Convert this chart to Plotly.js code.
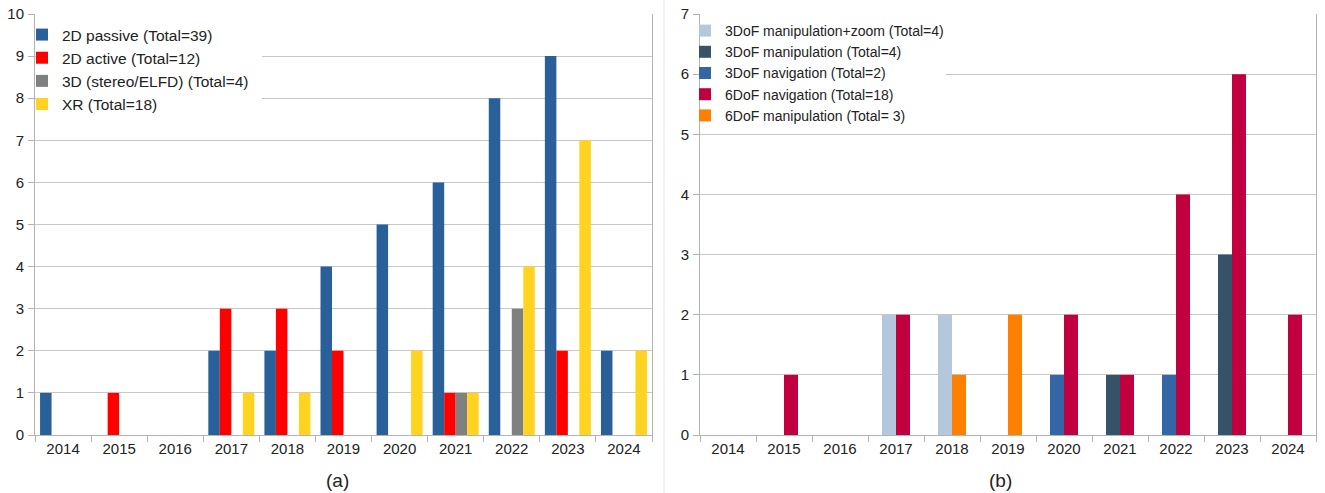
<!DOCTYPE html>
<html>
<head>
<meta charset="utf-8">
<script src="https://cdn.plot.ly/plotly-3.0.1.min.js"></script>
<style>html,body{margin:0;padding:0;background:#fff;}#chart{width:1325px;height:493px;}</style>
</head>
<body>
<div id="chart"></div>
<script>
const years = ["2014","2015","2016","2017","2018","2019","2020","2021","2022","2023","2024"];

// Panel (a)
const passive2D = [1,0,0,2,2,4,5,6,8,9,2];
const active2D  = [0,1,0,3,3,2,0,1,0,2,0];
const stereo3D  = [0,0,0,0,0,0,0,1,3,0,0];
const xr        = [0,0,0,1,1,0,2,1,4,7,2];
const namesA = ["2D passive (Total=39)","2D active (Total=12)","3D (stereo/ELFD) (Total=4)","XR (Total=18)"];

// Panel (b)
const manipZoom3 = [0,0,0,2,2,0,0,0,0,0,0];
const manip3     = [0,0,0,0,0,0,0,1,0,3,0];
const nav3       = [0,0,0,0,0,0,1,0,1,0,0];
const nav6       = [0,1,0,2,0,0,2,1,4,6,2];
const manip6     = [0,0,0,0,1,2,0,0,0,0,0];
const namesB = ["3DoF manipulation+zoom (Total=4)","3DoF manipulation (Total=4)","3DoF navigation (Total=2)","6DoF navigation (Total=18)","6DoF manipulation (Total= 3)"];

const colorsA = ["#2a6099","#ff0000","#808080","#ffd320"];
const colorsB = ["#b4c7dc","#355269","#3465a4","#c0003f","#ff8000"];

const seriesA = [passive2D, active2D, stereo3D, xr];
const seriesB = [manipZoom3, manip3, nav3, nav6, manip6];
const slotB = [-0.25,-0.25,-0.25,0,0];   // left slot for 3DoF, right slot for 6DoF

const traces = [];
seriesA.forEach((s,i)=>traces.push({
  type:"bar", x:years, y:s, name:namesA[i], xaxis:"x", yaxis:"y",
  marker:{color:colorsA[i], line:{width:0}}, legend:"legend"
}));
seriesB.forEach((s,i)=>traces.push({
  type:"bar", x:years, y:s, name:namesB[i], xaxis:"x2", yaxis:"y2",
  marker:{color:colorsB[i], line:{width:0}}, legend:"legend2",
  width:0.25, offset:slotB[i]
}));

const tickFont = {family:"Liberation Sans, Arial, sans-serif", size:15, color:"#222"};
const gridC = "#c8c8c8";
const lineC = "#b3b3b3";

function xax(dom, anchor){
  return {domain:dom, anchor:anchor, type:"category", tickson:"boundaries",
    ticks:"outside", ticklen:6, tickcolor:lineC, showline:true, linecolor:lineC, linewidth:1,
    showgrid:false, tickfont:tickFont, fixedrange:true, zeroline:false};
}
function yax(dom, anchor, maxv){
  return {domain:dom, anchor:anchor, range:[0,maxv], dtick:1, ticks:"outside", ticklen:6,
    tickcolor:lineC, showline:true, mirror:true, linecolor:lineC, linewidth:1,
    showgrid:true, gridcolor:gridC, gridwidth:1, zeroline:false, tickfont:tickFont, ticklabelstandoff:1};
}

const H=493, W=1325;
const yDom=[1-435/H, 1-14/H];
const layout = {
  width:W, height:H, margin:{l:0,r:0,t:0,b:0},
  paper_bgcolor:"#fff", plot_bgcolor:"#fff",
  barmode:"group", bargap:0.18, bargroupgap:0,
  font:{family:"Liberation Sans, Arial, sans-serif", size:13, color:"#222"},
  xaxis: xax([35/W, 652/W], "y"),
  yaxis: yax(yDom, "x", 10),
  xaxis2: xax([700/W, 1316/W], "y2"),
  yaxis2: yax(yDom, "x2", 7),
  legend:{x:22/W, y:1-18/H, xanchor:"left", yanchor:"top", bgcolor:"rgba(0,0,0,0)",
    font:{size:15.5, color:"#222"}, itemwidth:30, tracegroupgap:0},
  legend2:{x:685/W, y:1-15/H, xanchor:"left", yanchor:"top", bgcolor:"rgba(0,0,0,0)",
    font:{size:14, color:"#222"}, itemwidth:30, tracegroupgap:0},
  shapes:[
    {type:"rect", xref:"paper", yref:"paper", x0:40/W, x1:262/W,
      y0:1-110/H, y1:1-22/H, fillcolor:"#fff", line:{width:0}, layer:"above"},
    {type:"rect", xref:"paper", yref:"paper", x0:703/W, x1:946/W,
      y0:1-128/H, y1:1-19/H, fillcolor:"#fff", line:{width:0}, layer:"above"},
    {type:"line", xref:"paper", yref:"paper", x0:664/W, x1:664/W, y0:0, y1:1, line:{color:"#e6e6e6", width:1}}
  ],
  annotations:[
    {text:"(a)", xref:"paper", yref:"paper", x:337/W, y:1-480/H, xanchor:"center", yanchor:"middle", showarrow:false, font:{size:19,color:"#222"}},
    {text:"(b)", xref:"paper", yref:"paper", x:1000/W, y:1-480/H, xanchor:"center", yanchor:"middle", showarrow:false, font:{size:19,color:"#222"}}
  ],
  showlegend:true
};

Plotly.newPlot("chart", traces, layout, {staticPlot:true, displayModeBar:false});
</script>
</body>
</html>
